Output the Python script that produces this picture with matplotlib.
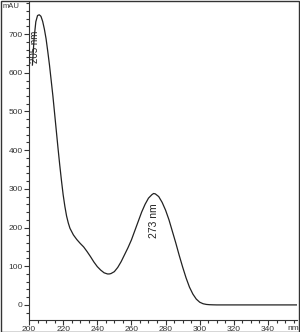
import matplotlib
matplotlib.use("Agg")
import matplotlib.pyplot as plt
from matplotlib.patches import Rectangle
from matplotlib.ticker import MultipleLocator

# UV spectrum of caffeine
wavelength = [202, 203, 204, 205, 206, 207, 208, 209, 210, 211, 212, 213, 214,
              215, 216, 217, 218, 219, 220, 221, 222, 223, 224, 226, 228, 230,
              232, 234, 236, 238, 240, 242, 244, 246, 247, 248, 250, 252, 254,
              256, 258, 260, 262, 264, 266, 268, 270, 272, 273, 274, 276, 278,
              280, 282, 284, 286, 288, 290, 292, 294, 296, 298, 300, 302, 304,
              306, 308, 310, 330, 357]
absorbance = [620, 690, 732, 748, 750, 746, 733, 713, 688, 655, 620, 580, 540,
              495, 450, 405, 362, 322, 285, 255, 230, 212, 198, 181, 169, 159,
              150, 138, 125, 111, 99, 90, 83, 80, 80, 81, 86, 97, 112,
              130, 148, 168, 192, 216, 240, 260, 276, 285, 288, 287, 280, 265,
              245, 220, 190, 160, 128, 98, 70, 46, 28, 15, 7, 3, 1.2,
              0.5, 0.2, 0, 0, 0]

x_ticks = [200, 220, 240, 260, 280, 300, 320, 340]
y_ticks = [0, 100, 200, 300, 400, 500, 600, 700]

plt.rcParams["font.family"] = ["Liberation Sans", "DejaVu Sans"]

fig = plt.figure(figsize=(3.0, 3.32), dpi=100)
ax = fig.add_axes([29 / 300, 12 / 332, 268 / 300, 318 / 332])

ax.plot(wavelength, absorbance, color="#222222", linewidth=0.9)

ax.set_xlim(200.6, 357)
ax.set_ylim(-39, 783)

ax.set_xticks(x_ticks)
ax.set_yticks(y_ticks)
ax.xaxis.set_minor_locator(MultipleLocator(5))
ax.yaxis.set_minor_locator(MultipleLocator(20))
ax.tick_params(axis="both", which="major", labelsize=6, length=3.5,
               width=0.8, color="#333333", labelcolor="#333333", pad=1)
ax.tick_params(axis="both", which="minor", length=2, width=0.8,
               color="#333333")

for side in ["top", "right"]:
    ax.spines[side].set_visible(False)
for side in ["left", "bottom"]:
    ax.spines[side].set_color("#333333")
    ax.spines[side].set_linewidth(0.8)

# labels and annotations
fig.text(3 / 300, 1 - 7 / 332, "mAU", fontsize=5.5, color="#333333",
         va="center", ha="left")
fig.text(293 / 300, 4 / 332, "nm", fontsize=6, color="#333333",
         va="center", ha="center")
ax.text(144, 640, "UV Spectrum of Caffeine", fontsize=8.5, color="#222222",
        ha="center", va="center")
ax.text(203.5, 667, "205 nm", fontsize=7, rotation=90, color="#222222",
        ha="center", va="center")
ax.text(273.5, 217, "273 nm", fontsize=7.5, rotation=90, color="#222222",
        ha="center", va="center")

# outer frame
fig.patches.append(Rectangle((0.5 / 300, 0.5 / 332), 298 / 300, 330.5 / 332,
                             transform=fig.transFigure, fill=False,
                             edgecolor="#333333", linewidth=1.0))

fig.savefig("out.png", dpi=100)
plt.close(fig)
